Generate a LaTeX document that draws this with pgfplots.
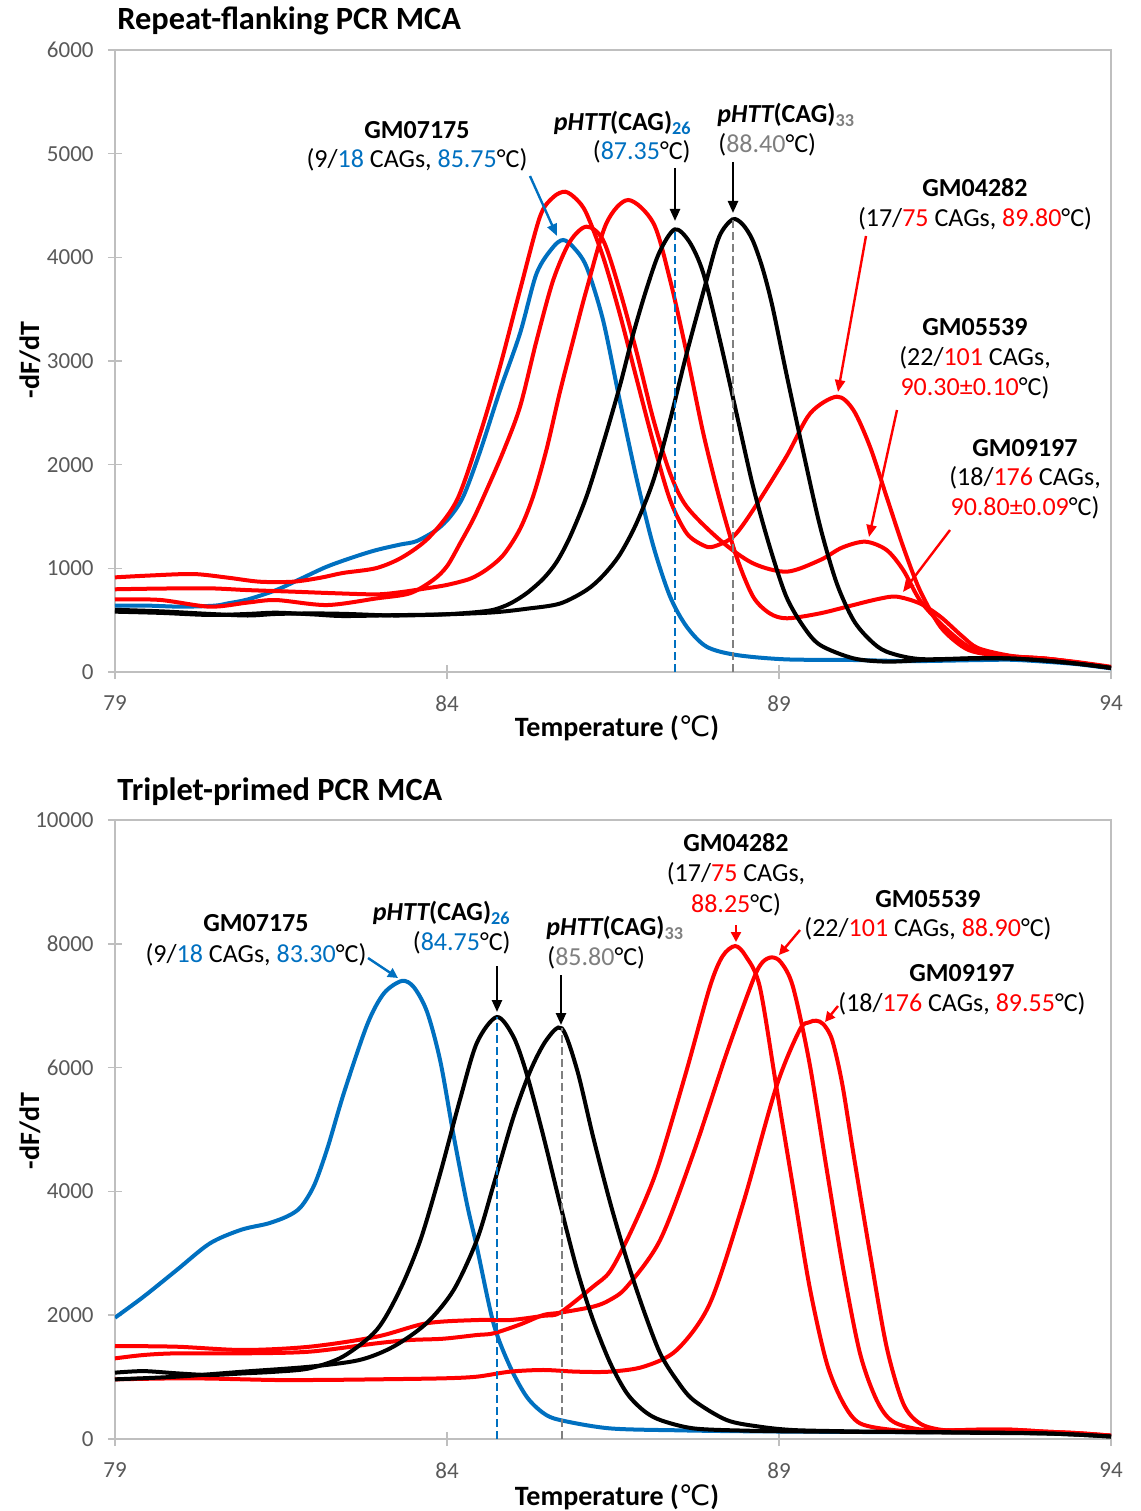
\documentclass[border=0pt]{standalone}
\usepackage{pgfplots}
\pgfplotsset{compat=1.18}
\usepackage{fontspec}
\setmainfont{Carlito}
\newfontfamily\dejavu{DejaVu Sans}
\usetikzlibrary{arrows.meta}
\definecolor{myblue}{HTML}{0070C0}
\definecolor{myred}{HTML}{FF0000}
\definecolor{lgray}{HTML}{7F7F7F}
\definecolor{tgray}{HTML}{595959}
\definecolor{agray}{HTML}{BFBFBF}
\pgfplotsset{
 mca/.style={
  scale only axis, width=498pt,
  xmin=79,xmax=94, ymin=0,
  xtick={79,84,89,94},
  scaled y ticks=false, scaled x ticks=false,
  axis line style={draw=agray, line width=0.75pt},
  tick style={draw=agray, line width=0.75pt},
  tick align=center, major tick length=7pt,
  xtick pos=left, ytick pos=left,
  ticklabel style={font=\fontsize{11.5}{13}\selectfont, text=tgray, inner sep=0pt},
  yticklabel style={anchor=east, xshift=-7pt},
  xticklabel style={anchor=north, yshift=-8pt},
  /pgf/number format/1000 sep={},
  /pgf/number format/assume math mode=true,
 },
 crv/.style={line width=2pt, smooth, tension=0.5},
}
\tikzset{
 pix/.style={x=0.5pt,y=-0.5pt,shift={(-57.5pt,336pt)}},
 arr/.style={line width=1.2pt,-{Triangle[length=6pt,width=5pt]}},
 sarr/.style={line width=1.2pt,-{Triangle[length=5pt,width=5pt]}},
 lab/.style={inner sep=0pt, font=\fontsize{13}{15}\selectfont},
}
\begin{document}
\begin{tikzpicture}
\begin{scope}[pix]
\path[use as bounding box] (0,0) rectangle (1141,1511);
\end{scope}
% ---------------- top axis
\begin{axis}[mca, at={(0pt,0pt)}, anchor=south west, height=311pt, ymax=6000, ytick={0,1000,...,6000}]
\addplot[crv, myblue] coordinates {(79.0,640) (79.5,640) (80.0,630) (80.5,640) (80.7,662) (81.0,700) (81.43,791) (81.8,900) (82.19,1016) (82.6,1110) (82.94,1177) (83.3,1230) (83.54,1262) (83.84,1370) (84.05,1500) (84.25,1700) (84.5,2130) (84.8,2720) (85.1,3267) (85.35,3846) (85.6,4100) (85.75,4167) (85.9,4100) (86.1,3910) (86.35,3395) (86.6,2624) (86.86,1852) (87.11,1209) (87.36,727) (87.61,437) (87.91,244) (88.36,164) (89.1,122) (90.1,116) (91.0,105) (92.0,115) (92.5,118) (93.0,100) (93.5,75) (94.0,35)};
\addplot[crv, myred] coordinates {(79.0,913) (79.5,930) (80.18,945) (80.7,910) (81.18,871) (81.68,871) (82.1,910) (82.43,955) (82.94,1003) (83.34,1112) (83.74,1305) (84.15,1659) (84.5,2300) (84.8,2950) (85.1,3685) (85.4,4392) (85.6,4580) (85.78,4633) (85.95,4560) (86.1,4424) (86.35,4006) (86.6,3459) (86.86,2817) (87.11,2206) (87.36,1659) (87.61,1338) (87.86,1222) (88.01,1209) (88.31,1305) (88.61,1563) (89.11,2077) (89.47,2495) (89.87,2656) (90.12,2527) (90.37,2174) (90.62,1691) (90.87,1209) (91.12,791) (91.43,437) (91.75,250) (92.0,185) (92.5,150) (93.0,130) (93.5,90) (94.0,40)};
\addplot[crv, myred] coordinates {(79.0,701) (79.68,695) (80.43,630) (81.0,670) (81.43,694) (82.19,646) (82.94,710) (83.44,759) (83.79,887) (84.0,1020) (84.2,1244) (84.4,1480) (84.6,1760) (84.85,2130) (85.1,2559) (85.35,3200) (85.6,3781) (85.85,4150) (86.1,4296) (86.35,4167) (86.6,3685) (86.86,3074) (87.11,2431) (87.36,1916) (87.61,1595) (88.11,1273) (88.61,1048) (89.12,968) (89.62,1080) (89.95,1200) (90.30,1257) (90.62,1177) (90.87,984) (91.12,694) (91.43,470) (91.75,290) (92.0,200) (92.5,150) (93.0,130) (93.5,90) (94.0,45)};
\addplot[crv, myred] coordinates {(79.0,798) (79.7,805) (80.43,807) (81.0,790) (81.68,775) (82.3,760) (82.94,749) (83.3,770) (83.69,807) (84.0,840) (84.35,900) (84.6,990) (84.85,1130) (85.1,1380) (85.3,1700) (85.5,2150) (85.7,2700) (85.9,3200) (86.1,3685) (86.4,4328) (86.73,4553) (87.11,4328) (87.36,3781) (87.61,3074) (87.86,2302) (88.11,1659) (88.36,1112) (88.61,727) (88.86,566) (89.12,518) (89.62,566) (90.12,646) (90.5,705) (90.77,727) (91.12,662) (91.43,534) (91.75,350) (92.0,230) (92.5,155) (93.0,130) (93.5,95) (94.0,50)};
\addplot[crv, black] coordinates {(79.0,582) (79.7,570) (80.43,550) (81.0,560) (81.43,572) (82.0,555) (82.43,540) (83.2,548) (83.94,556) (84.4,575) (84.7,600) (84.95,660) (85.2,760) (85.45,900) (85.65,1060) (85.85,1300) (86.1,1691) (86.35,2200) (86.6,2752) (86.8,3250) (87.0,3685) (87.2,4050) (87.43,4270) (87.65,4150) (87.86,3847) (88.11,3202) (88.36,2495) (88.61,1788) (88.86,1209) (89.11,727) (89.37,437) (89.62,260) (90.12,132) (90.62,100) (91.2,115) (92.0,130) (92.5,130) (93.0,110) (93.5,80) (94.0,40)};
\addplot[crv, black] coordinates {(79.0,600) (79.7,585) (80.43,560) (81.0,545) (81.43,560) (82.0,565) (82.5,560) (83.2,545) (83.94,555) (84.69,575) (85.2,610) (85.7,660) (86.1,790) (86.35,930) (86.6,1130) (86.85,1430) (87.11,1852) (87.36,2431) (87.61,3074) (87.91,3781) (88.1,4200) (88.30,4366) (88.45,4320) (88.6,4170) (88.75,3900) (88.9,3530) (89.11,2881) (89.37,2109) (89.62,1402) (89.87,855) (90.12,502) (90.37,309) (90.62,196) (91.12,125) (92.0,135) (92.5,130) (93.0,110) (93.5,80) (94.0,40)};
\addplot[myblue, line width=1pt, dash pattern=on 4pt off 2pt] coordinates {(87.43,0) (87.43,4270)};
\addplot[lgray, line width=1pt, dash pattern=on 4pt off 2pt] coordinates {(88.30,0) (88.30,4366)};
\end{axis}
% ---------------- bottom axis
\begin{axis}[mca, at={(0pt,-383.5pt)}, anchor=south west, height=309.5pt, ymax=10000, ytick={0,2000,...,10000}]
\addplot[crv, myblue] coordinates {(79.0,1960) (79.43,2299) (79.93,2730) (80.43,3161) (80.9,3380) (81.3,3480) (81.6,3600) (81.8,3750) (82.0,4100) (82.2,4700) (82.45,5600) (82.8,6700) (83.05,7200) (83.32,7400) (83.5,7300) (83.7,6900) (83.9,6100) (84.1,4900) (84.3,3800) (84.45,3100) (84.70,1869) (84.95,1168) (85.2,683) (85.45,420) (85.7,307) (86.45,172) (87.5,140) (88.5,125) (90.0,115) (91.0,110) (92.0,120) (93.0,100) (93.5,80) (94.0,50)};
\addplot[crv, myred] coordinates {(79.0,1502) (79.93,1491) (80.93,1438) (81.93,1491) (82.94,1653) (83.69,1869) (84.45,1922) (84.95,1922) (85.45,1990) (85.7,2040) (86.2,2461) (86.45,2700) (86.71,3215) (87.0,3900) (87.21,4507) (87.61,5961) (87.96,7308) (88.15,7800) (88.34,7964) (88.5,7800) (88.71,7308) (88.96,5692) (89.21,4076) (89.46,2461) (89.72,1223) (89.97,576) (90.22,253) (90.72,145) (91.2,130) (92.0,150) (92.5,150) (93.0,120) (93.5,95) (94.0,55)};
\addplot[crv, myred] coordinates {(79.0,1303) (79.43,1357) (79.93,1384) (80.93,1384) (81.93,1411) (82.94,1546) (83.44,1599) (83.94,1620) (84.45,1680) (84.7,1707) (85.1,1850) (85.45,2003) (85.7,2040) (86.2,2138) (86.45,2245) (86.71,2461) (87.21,3215) (87.71,4615) (88.21,6231) (88.61,7415) (88.75,7700) (88.89,7781) (89.03,7700) (89.21,7308) (89.46,6069) (89.72,4346) (89.97,2730) (90.22,1384) (90.47,630) (90.72,280) (91.2,145) (92.0,150) (92.5,150) (93.0,120) (93.5,95) (94.0,55)};
\addplot[crv, myred] coordinates {(79.0,964) (79.93,980) (80.5,975) (81.43,953) (82.2,955) (82.94,964) (83.94,980) (84.45,1007) (84.95,1088) (85.45,1115) (85.95,1088) (86.45,1088) (86.96,1168) (87.46,1438) (87.96,2192) (88.46,3808) (88.96,5692) (89.31,6607) (89.45,6730) (89.56,6758) (89.67,6700) (89.8,6450) (89.95,5750) (90.12,4615) (90.37,3000) (90.62,1491) (90.87,576) (91.12,253) (91.47,145) (92.0,130) (92.5,130) (93.0,110) (93.5,85) (94.0,50)};
\addplot[crv, black] coordinates {(79.0,1072) (79.43,1097) (79.93,1061) (80.43,1034) (80.93,1060) (81.43,1088) (81.93,1142) (82.43,1330) (82.94,1761) (83.29,2407) (83.6,3215) (83.9,4300) (84.2,5500) (84.45,6400) (84.75,6817) (85.0,6500) (85.2,5900) (85.45,4900) (85.7,3808) (85.96,2730) (86.2,1922) (86.46,1223) (86.71,738) (86.96,460) (87.21,307) (87.71,172) (88.5,135) (89.5,120) (90.5,115) (91.5,110) (92.5,100) (93.0,90) (93.5,70) (94.0,40)};
\addplot[crv, black] coordinates {(79.0,964) (79.93,1007) (80.93,1088) (81.93,1168) (82.68,1276) (83.19,1491) (83.69,1869) (84.1,2407) (84.45,3215) (84.7,4100) (85.0,5200) (85.26,5961) (85.5,6450) (85.73,6634) (85.96,5961) (86.2,4884) (86.46,3808) (86.71,2892) (86.96,2084) (87.21,1384) (87.46,950) (87.71,630) (88.21,307) (88.71,199) (89.21,145) (90.0,125) (91.0,110) (92.0,100) (93.0,90) (93.5,70) (94.0,40)};
\addplot[myblue, line width=1pt, dash pattern=on 4pt off 2pt] coordinates {(84.75,0) (84.75,6817)};
\addplot[lgray, line width=1pt, dash pattern=on 4pt off 2pt] coordinates {(85.73,0) (85.73,6634)};
\end{axis}
% ---------------- annotations (pixel coordinates)
\begin{scope}[pix]
\node[anchor=base west, inner sep=0pt, font=\fontsize{16.2}{18}\selectfont\bfseries] at (117,30) {Repeat-flanking PCR MCA};
\node[anchor=base west, inner sep=0pt, font=\fontsize{16.2}{18}\selectfont\bfseries] at (117,800) {Triplet-primed PCR MCA};
\foreach \yy in {360,1131}{
 \node[rotate=90, inner sep=0pt, font=\fontsize{14}{16}\selectfont\bfseries] at (30,\yy) {-dF/dT};
}
\foreach \yy in {728,1497}{
 \node[inner sep=0pt, font=\fontsize{14}{16}\selectfont\bfseries] at (617,\yy) {Temperature ({\dejavu\mdseries ℃})};
}
% top annotations
\node[lab] at (417,130) {\bfseries GM07175};
\node[lab] at (417,160) {(9/\textcolor{myblue}{18} CAGs, \textcolor{myblue}{85.75}°C)};
\draw[arr, myblue] (530,176) -- (557,236);
\node[lab, anchor=east] at (692,123) {\bfseries\itshape pHTT\upshape(CAG)\textsubscript{\textcolor{myblue}{26}}};
\node[lab, anchor=east] at (691,152) {(\textcolor{myblue}{87.35}°C)};
\draw[arr, black] (675,168) -- (675,221);
\node[lab, anchor=west] at (717,115) {\bfseries\itshape pHTT\upshape(CAG)\textsubscript{\textcolor{lgray}{33}}};
\node[lab, anchor=west] at (718,145) {(\textcolor{lgray}{88.40}°C)};
\draw[arr, black] (733,162) -- (733,213);
\node[lab] at (975,188) {\bfseries GM04282};
\node[lab] at (975,219) {(17/\textcolor{myred}{75} CAGs, \textcolor{myred}{89.80}°C)};
\draw[arr, myred] (866,236) -- (838,392);
\node[lab] at (975,327) {\bfseries GM05539};
\node[lab] at (975,358) {(22/\textcolor{myred}{101} CAGs,};
\node[lab] at (975,388) {\textcolor{myred}{90.30±0.10}°C)};
\draw[arr, myred] (897,410) -- (869,537);
\node[lab] at (1025,448) {\bfseries GM09197};
\node[lab] at (1025,478) {(18/\textcolor{myred}{176} CAGs,};
\node[lab] at (1025,508) {\textcolor{myred}{90.80±0.09}°C)};
\draw[arr, myred] (950,530) -- (903,592);
% bottom annotations
\node[lab] at (256,923) {\bfseries GM07175};
\node[lab] at (256,955) {(9/\textcolor{myblue}{18} CAGs, \textcolor{myblue}{83.30}°C)};
\draw[sarr, myblue] (368,958) -- (398,978);
\node[lab, anchor=east] at (511,913) {\bfseries\itshape pHTT\upshape(CAG)\textsubscript{\textcolor{myblue}{26}}};
\node[lab, anchor=east] at (511,943) {(\textcolor{myblue}{84.75}°C)};
\draw[arr, black] (497,966) -- (497,1012);
\node[lab, anchor=west] at (546,928) {\bfseries\itshape pHTT\upshape(CAG)\textsubscript{\textcolor{lgray}{33}}};
\node[lab, anchor=west] at (547,958) {(\textcolor{lgray}{85.80}°C)};
\draw[arr, black] (561,975) -- (561,1025);
\node[lab] at (736,843) {\bfseries GM04282};
\node[lab] at (736,874) {(17/\textcolor{myred}{75} CAGs,};
\node[lab] at (736,905) {\textcolor{myred}{88.25}°C)};
\draw[sarr, myred] (736,925) -- (736,942);
\node[lab] at (928,899) {\bfseries GM05539};
\node[lab] at (928,929) {(22/\textcolor{myred}{101} CAGs, \textcolor{myred}{88.90}°C)};
\draw[sarr, myred] (800,930) -- (779,955);
\node[lab] at (962,973) {\bfseries GM09197};
\node[lab] at (962,1004) {(18/\textcolor{myred}{176} CAGs, \textcolor{myred}{89.55}°C)};
\draw[sarr, myred] (838,1006) -- (825,1022);
\end{scope}
\end{tikzpicture}
\end{document}
